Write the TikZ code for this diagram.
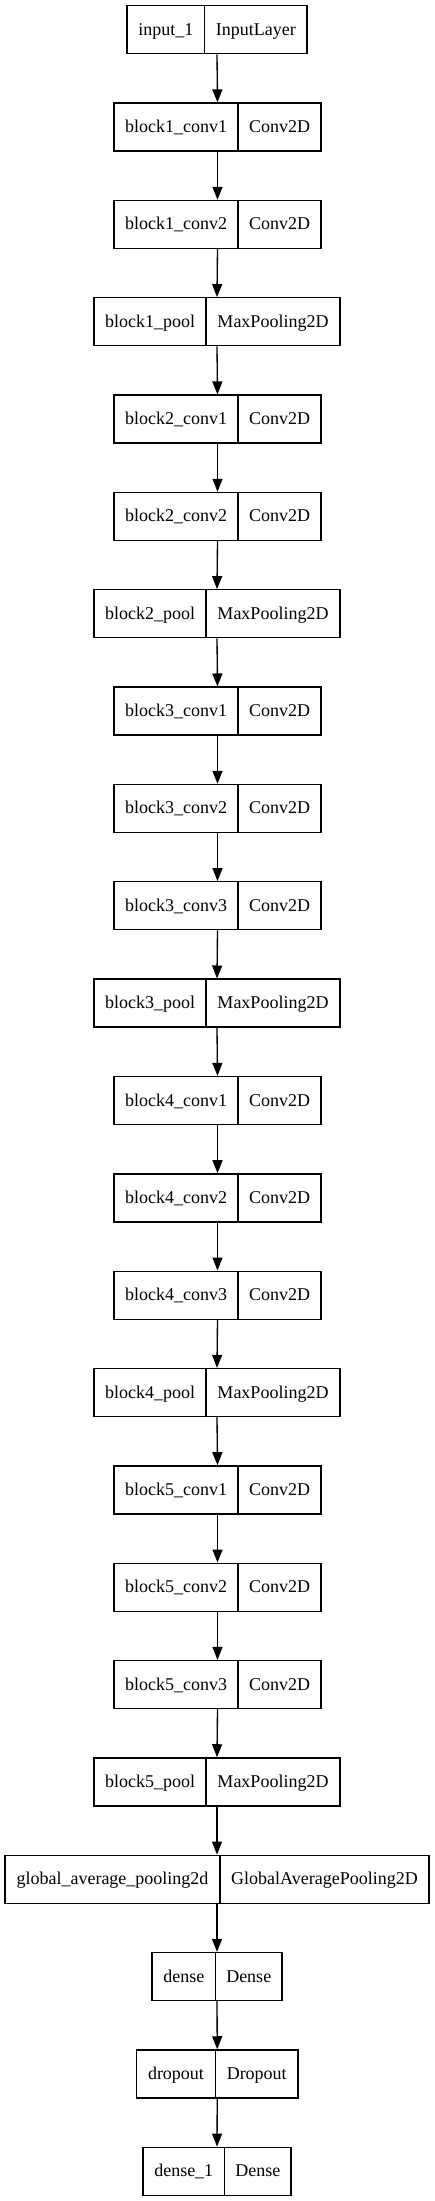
\documentclass[tikz,border=0pt]{standalone}
\usepackage{fontspec}
\setmainfont{Liberation Serif}
\usetikzlibrary{arrows.meta}
\begin{document}
\begin{tikzpicture}[x=0.75pt,y=-0.75pt,
  layerbox/.style={draw,line width=1pt,minimum height=36pt,inner sep=0pt},
  lbl/.style={font=\fontsize{13.5}{16}\selectfont,inner sep=0pt,anchor=base},
  conn/.style={line width=1pt,-{Triangle[length=9.75pt,width=7.5pt]}}]
\useasboundingbox (0,0) rectangle (435,2201);
\foreach \i/\a/\b/\l/\d/\r in {
 0/input\_1/InputLayer/127/204.5/307,
 1/block1\_conv1/Conv2D/114/238/321,
 2/block1\_conv2/Conv2D/114/238/321,
 3/block1\_pool/MaxPooling2D/94/206/340,
 4/block2\_conv1/Conv2D/114/238/321,
 5/block2\_conv2/Conv2D/114/238/321,
 6/block2\_pool/MaxPooling2D/94/206/340,
 7/block3\_conv1/Conv2D/114/238/321,
 8/block3\_conv2/Conv2D/114/238/321,
 9/block3\_conv3/Conv2D/114/238/321,
 10/block3\_pool/MaxPooling2D/94/206/340,
 11/block4\_conv1/Conv2D/114/238/321,
 12/block4\_conv2/Conv2D/114/238/321,
 13/block4\_conv3/Conv2D/114/238/321,
 14/block4\_pool/MaxPooling2D/94/206/340,
 15/block5\_conv1/Conv2D/114/238/321,
 16/block5\_conv2/Conv2D/114/238/321,
 17/block5\_conv3/Conv2D/114/238/321,
 18/block5\_pool/MaxPooling2D/94/206/340,
 19/global\_average\_pooling2d/GlobalAveragePooling2D/5/220/429,
 20/dense/Dense/152/215.5/282,
 21/dropout/Dropout/136.5/215.5/298,
 22/dense\_1/Dense/143/224.5/291}{
  \pgfmathsetmacro\yc{29.75+97.34*\i}
  \pgfmathsetmacro\yb{\yc+5.5}
  \pgfmathsetmacro\w{(\r-\l)*0.75}
  \node[layerbox,minimum width=\w pt] (n\i) at ({(\l+\r)/2},\yc) {};
  \coordinate (d\i) at (\d,\yc);
  \draw[line width=1pt] (n\i.north -| d\i) -- (n\i.south -| d\i);
  \node[lbl] (a\i) at ({(\l+\d)/2},\yb) {\a};
  \node[lbl] (b\i) at ({(\d+\r)/2},\yb) {\b};
  \ifnum\i>0
    \pgfmathtruncatemacro\j{\i-1}
    \draw[conn] (n\j.south) -- (n\i.north);
  \fi
}
\end{tikzpicture}
\end{document}
